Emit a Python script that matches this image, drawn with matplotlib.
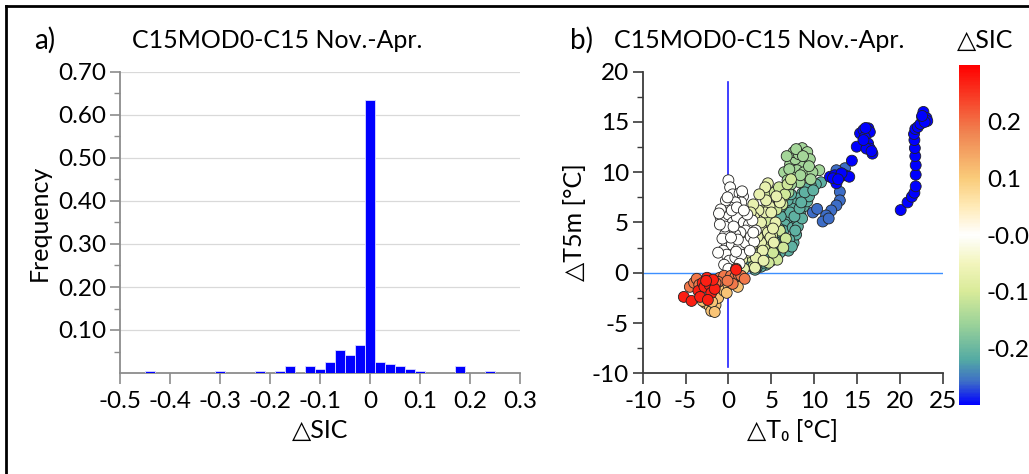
import numpy as np
import matplotlib
matplotlib.use("Agg")
import matplotlib.pyplot as plt
from matplotlib.colors import LinearSegmentedColormap, Normalize
from matplotlib.lines import Line2D

plt.rcParams['font.family'] = ['Lato', 'DejaVu Sans']
plt.rcParams['axes.unicode_minus'] = False

# ---- panel a: histogram of delta SIC ----
bin_centers = [-0.44, -0.30, -0.22, -0.18, -0.16, -0.12, -0.10, -0.08, -0.06, -0.04,
               -0.02, 0.00, 0.02, 0.04, 0.06, 0.08, 0.10, 0.18, 0.24]
frequency = [0.005, 0.005, 0.005, 0.005, 0.0155, 0.0155, 0.010, 0.026, 0.054, 0.043,
             0.066, 0.635, 0.026, 0.022, 0.0155, 0.010, 0.005, 0.0155, 0.005]
hist_xticks = [-0.5, -0.4, -0.3, -0.2, -0.1, 0.0, 0.1, 0.2, 0.3]
hist_xlabels = ['-0.5', '-0.4', '-0.3', '-0.2', '-0.1', '0', '0.1', '0.2', '0.3']
hist_yticks = [0.1, 0.2, 0.3, 0.4, 0.5, 0.6, 0.7]

# ---- panel b: scatter dT0 vs dT5m, coloured by dSIC ----
blue_x = [20.1, 20.9, 21.4, 21.7, 21.85, 21.85, 21.85, 21.8, 21.75, 21.7, 21.65, 21.8, 22.1,
          22.4, 22.6, 22.75, 23.1, 23.2, 22.9, 22.6,
          14.97, 15.36, 15.75, 16.33, 16.5, 15.9, 16.3, 16.5, 16.8, 16.1, 15.75, 14.4, 16.7, 16.0,
          11.85, 12.4, 13.0, 13.6, 14.1, 12.6, 13.2, 12.2, 12.8]
blue_y = [6.24, 7.0, 7.56, 7.96, 8.6, 9.75, 10.7, 11.6, 12.4, 13.2, 13.8, 14.3, 14.5,
          14.8, 15.5, 16.0, 15.4, 15.1, 15.0, 15.6,
          12.54, 13.87, 14.2, 14.37, 14.0, 13.5, 12.85, 12.35, 11.85, 12.35, 13.2, 11.15, 12.1, 14.4,
          9.55, 9.7, 9.55, 9.7, 9.55, 8.9, 9.9, 9.4, 9.3]
sic_blue = -0.30

steel_x = [13.0, 13.0, 12.6, 12.0, 11.4, 11.0, 9.85, 10.35, 13.6, 12.6, 11.7]
steel_y = [8.05, 7.2, 6.7, 6.2, 5.7, 5.1, 6.0, 6.35, 10.4, 10.2, 5.4]
sic_steel = -0.26

teal_x = [10.8, 10.2, 9.6, 9.0, 8.6, 8.2, 7.8, 7.4, 7.0, 6.8, 6.6, 6.4, 6.3, 6.2, 6.5, 7.0,
          7.6, 7.9, 7.5, 8.0, 8.4, 8.8, 9.2, 6.0, 5.5, 5.0, 4.4, 3.8, 7.2, 5.8, 5.6, 6.9,
          7.3, 8.1, 8.6, 9.4, 5.2, 4.8, 6.1, 7.7, 8.9, 3.3, 2.7, 7.1, 6.7, 5.9, 5.4, 8.3,
          9.9, 6.2, 4.6, 4.1, 3.1, 7.8, 7.4, 8.5]
teal_y = [9.0, 8.8, 8.7, 8.4, 7.9, 7.4, 6.9, 6.4, 5.9, 5.3, 4.8, 4.2, 3.6, 3.0, 2.5, 2.2,
          3.0, 3.8, 4.5, 5.2, 6.0, 6.6, 7.1, 2.0, 1.6, 1.2, 0.8, 0.6, 6.0, 3.5, 4.0, 7.2,
          7.8, 4.6, 5.4, 7.6, 2.6, 2.0, 5.6, 5.6, 8.0, 0.5, 0.9, 3.3, 2.8, 4.4, 3.1, 6.4,
          8.2, 6.6, 1.5, 1.0, 0.3, 4.2, 2.6, 7.0]
sic_teal = -0.21

green_x = [8.6, 9.2, 9.0, 9.5, 8.5, 7.2, 6.5, 7.8, 8.0, 6.9, 6.6, 7.5, 8.3, 7.0, 6.4, 8.8,
           10.6, 7.6, 6.8, 9.8, 8.2, 7.3, 5.9, 6.2, 7.9, 8.7, 9.4, 6.0, 5.6, 7.1, 9.6, 8.4]
green_y = [12.4, 12.0, 11.2, 11.3, 10.6, 10.8, 10.0, 11.3, 10.2, 9.2, 8.5, 9.5, 9.0, 8.0, 7.5, 10.0,
           10.2, 12.0, 11.6, 10.0, 11.8, 8.8, 6.8, 8.2, 12.3, 11.6, 10.6, 7.2, 6.4, 10.3, 9.3, 9.7]
sic_green = -0.15

ygreen_x = [4.6, 5.4, 5.9, 6.3, 5.6, 4.9, 5.3, 6.0, 6.7, 5.0, 4.2, 3.6, 5.7, 6.4, 4.5, 3.9,
            3.1, 2.4, 4.0, 5.1, 5.8, 6.6, 4.7, 3.5, 2.9, 6.9, 7.3, 5.2]
ygreen_y = [7.6, 8.0, 8.5, 6.8, 6.3, 5.6, 4.7, 4.2, 3.4, 2.9, 2.4, 1.8, 1.3, 2.5, 5.2, 4.0,
            2.9, 1.6, 6.2, 3.7, 7.4, 7.8, 1.0, 1.1, 0.6, 8.8, 9.3, 2.0]
sic_ygreen = -0.11

yellow_x = [4.6, 4.3, 4.8, 4.3, 3.5, 3.0, 2.5, 3.8, 4.6, 4.9, 3.8, 2.8, 2.2, 1.6, 1.2, 5.5,
            5.2, 4.0, 3.2, 6.0, 5.6, 3.8, 2.2, 3.4, 1.9, 4.4, 2.9, 5.0, 3.6, 2.6, 1.8, 4.1,
            5.3, 3.1]
yellow_y = [8.9, 8.5, 6.6, 6.0, 6.2, 5.5, 4.5, 4.5, 4.0, 3.5, 3.0, 2.8, 2.0, 1.3, 0.8, 5.0,
            4.4, 2.2, 1.5, 7.0, 7.6, 5.0, 3.4, 3.6, 2.6, 7.2, 6.8, 6.0, 7.8, 6.0, 0.4, 1.2,
            3.0, 0.5]
sic_yellow = -0.07

white_x = [0.0, 0.2, 0.5, 1.3, 1.7, 1.5, 0.8, 0.2, -0.6, -0.9, -0.5, 0.0, 0.5, 1.0, 1.8, 2.4,
           2.8, 2.0, 1.4, 0.8, 0.2, -0.4, -0.2, 0.4, 1.2, 2.0, 2.6, -0.6, -0.2, 0.1, -0.5, 0.0,
           0.8, 1.5, 3.2, -0.4, 0.4, 1.0, -1.0, -0.7, 2.2, 3.0, 1.1, -0.3, 0.6, 1.8, -1.2, 2.5,
           -0.9, -0.1, 1.6, 2.9, 0.3, -1.1, 1.3, 0.9]
white_y = [9.2, 8.5, 7.8, 7.9, 7.6, 7.0, 7.0, 6.5, 6.0, 5.5, 5.2, 5.8, 5.0, 5.5, 5.0, 4.8,
           5.2, 4.2, 4.0, 3.8, 4.2, 3.8, 3.0, 2.8, 2.5, 3.0, 3.6, 2.2, 1.8, 1.2, 0.8, 0.4,
           1.5, 1.8, 4.2, 4.6, 6.2, 6.5, 4.8, 3.4, 5.8, 3.1, 3.3, 7.2, 4.6, 6.2, 2.0, 2.2,
           6.3, 7.5, 8.1, 4.0, 3.5, 5.9, 0.9, 2.1]
sic_white = 0.0

lorange_x = [-2.7, -2.2, -1.8, -2.0, -1.5, -1.2, -3.0, -0.5, 0.0, 0.6, 1.1, -0.2, -2.4, -1.9,
             -1.6, 0.3]
lorange_y = [-3.0, -3.3, -3.6, -3.8, -3.2, -2.5, -2.8, -1.8, -1.2, -0.8, -1.4, -2.0, -2.6, -2.9,
             -3.9, -0.6]
sic_lorange = 0.11

orange_x = [-4.5, -4.0, -3.7, -1.0, -0.5, 0.3, 0.8, 1.2, -1.2, 0.5, 1.5, -1.5, -0.1, 0.9,
            -3.4, 1.9]
orange_y = [-1.4, -1.0, -0.6, -0.5, -0.3, -0.3, -0.4, -0.2, -0.9, -1.1, -0.3, -1.0, -0.8, 0.4,
            -1.2, -0.6]
sic_orange = 0.19

red_x = [-5.2, -4.3, -3.5, -3.0, -2.5, -2.8, -2.2, -2.0, -3.3, -2.4, -1.6, -1.8, -2.6, 0.9]
red_y = [-2.4, -2.8, -1.8, -1.0, -0.5, -1.4, -1.2, -2.0, -2.4, -2.7, -1.6, -0.7, -0.8, 0.3]
sic_red = 0.27

cbar_ticks = [0.2, 0.1, 0.0, -0.1, -0.2]
cbar_labels = ['0.2', '0.1', '-0.0', '-0.1', '-0.2']

# colormap: blue -> teal -> green -> pale yellow -> white -> orange -> red
cmap_stops = [(0.0, (0.0, 0.0, 1.0)),
              (0.067, (0.24, 0.43, 0.78)),
              (0.133, (0.33, 0.67, 0.64)),
              (0.233, (0.60, 0.82, 0.60)),
              (0.333, (0.85, 0.92, 0.60)),
              (0.417, (0.95, 0.96, 0.74)),
              (0.5, (1.0, 1.0, 1.0)),
              (0.583, (1.0, 0.92, 0.72)),
              (0.667, (0.98, 0.80, 0.48)),
              (0.8, (0.94, 0.52, 0.32)),
              (1.0, (1.0, 0.0, 0.0))]
cmap = LinearSegmentedColormap.from_list('sic', cmap_stops)
norm = Normalize(vmin=-0.30, vmax=0.30)

fig = plt.figure(figsize=(10.29, 4.74), dpi=100)

# frame around the figure (top and left edge)
fig.add_artist(Line2D([5.5 / 1029, 5.5 / 1029], [0, 1 - 6 / 474], transform=fig.transFigure,
                      color='black', lw=2))
fig.add_artist(Line2D([5.5 / 1029, 1], [1 - 6 / 474, 1 - 6 / 474], transform=fig.transFigure,
                      color='black', lw=2))

tick_fs = 17.5
label_fs = 18
title_fs = 18

# ---------- panel a ----------
ax1 = fig.add_axes([120 / 1029, 101 / 474, 400 / 1029, 301 / 474])
ax1.bar(bin_centers, frequency, width=0.02, color='#0000ff', edgecolor='#dcdcff', linewidth=0.6,
        zorder=3)
ax1.set_xlim(-0.5, 0.3)
ax1.set_ylim(0, 0.70)
ax1.set_yticks(hist_yticks)
ax1.set_yticklabels(['%.2f' % v for v in hist_yticks])
ax1.set_yticks(np.arange(0.05, 0.70, 0.1), minor=True)
ax1.set_xticks(hist_xticks)
ax1.set_xticklabels(hist_xlabels)
ax1.grid(axis='y', color='#d9d9d9', lw=0.9, zorder=0)
for s in ['top', 'right']:
    ax1.spines[s].set_visible(False)
for s in ['left', 'bottom']:
    ax1.spines[s].set_color('#8c8c8c')
    ax1.spines[s].set_linewidth(1.3)
ax1.tick_params(axis='y', which='major', length=7, color='#8c8c8c', width=1.2, labelsize=tick_fs, pad=3)
ax1.tick_params(axis='y', which='minor', length=4, color='#8c8c8c', width=1.0)
ax1.tick_params(axis='x', which='major', length=8, color='#8c8c8c', width=1.2, labelsize=tick_fs, pad=5)
ax1.set_ylabel('Frequency', fontsize=label_fs, labelpad=5)
ax1.set_xlabel('△SIC', fontsize=label_fs, labelpad=5)

fig.text(45 / 1029, 1 - 40 / 474, 'a)', fontsize=20, ha='center', va='center')
fig.text(277 / 1029, 1 - 40 / 474, 'C15MOD0-C15 Nov.-Apr.', fontsize=title_fs, ha='center', va='center')

# ---------- panel b ----------
ax2 = fig.add_axes([642.7 / 1029, 100.7 / 474, 300 / 1029, 301.6 / 474])
ax2.set_xlim(-10, 25)
ax2.set_ylim(-10, 20)
ax2.plot([-10, 25], [0, 0], color='#3d8fff', lw=1.0, zorder=1)
ax2.plot([0, 0], [-9.35, 19.0], color='#1f1fff', lw=1.2, zorder=1)

groups = [(teal_x, teal_y, sic_teal), (green_x, green_y, sic_green),
          (ygreen_x, ygreen_y, sic_ygreen), (yellow_x, yellow_y, sic_yellow),
          (white_x, white_y, sic_white), (lorange_x, lorange_y, sic_lorange),
          (orange_x, orange_y, sic_orange), (red_x, red_y, sic_red),
          (steel_x, steel_y, sic_steel), (blue_x, blue_y, sic_blue)]
for gx, gy, gs in groups:
    ax2.scatter(gx, gy, c=[gs] * len(gx), cmap=cmap, norm=norm, s=62,
                edgecolors='#222222', linewidths=0.6, zorder=3)

ax2.set_xticks(np.arange(-10, 26, 5))
ax2.set_yticks(np.arange(-10, 21, 5))
ax2.set_yticks(np.arange(-7.5, 20, 5), minor=True)
for s in ['top', 'right']:
    ax2.spines[s].set_visible(False)
for s in ['left', 'bottom']:
    ax2.spines[s].set_color('#3a3a3a')
    ax2.spines[s].set_linewidth(1.3)
ax2.tick_params(axis='y', which='major', length=7, color='#3a3a3a', width=1.2, labelsize=tick_fs, pad=3)
ax2.tick_params(axis='y', which='minor', length=4, color='#3a3a3a', width=1.0)
ax2.tick_params(axis='x', which='major', length=8, color='#3a3a3a', width=1.2, labelsize=tick_fs, pad=5)
ax2.set_ylabel('△T5m [°C]', fontsize=label_fs, labelpad=4)
ax2.set_xlabel('△T₀ [°C]', fontsize=label_fs, labelpad=5)

fig.text(582 / 1029, 1 - 40 / 474, 'b)', fontsize=20, ha='center', va='center')
fig.text(759 / 1029, 1 - 40 / 474, 'C15MOD0-C15 Nov.-Apr.', fontsize=title_fs, ha='center', va='center')
fig.text(985 / 1029, 1 - 40 / 474, '△SIC', fontsize=label_fs, ha='center', va='center')

# colorbar
cax = fig.add_axes([959 / 1029, 69 / 474, 21 / 1029, 340 / 474])
sm = matplotlib.cm.ScalarMappable(norm=norm, cmap=cmap)
cb = fig.colorbar(sm, cax=cax)
cb.outline.set_visible(False)
cb.set_ticks(cbar_ticks)
cb.set_ticklabels(cbar_labels)
cax.tick_params(length=0, labelsize=tick_fs, pad=5)

fig.savefig('out.png', dpi=100)
